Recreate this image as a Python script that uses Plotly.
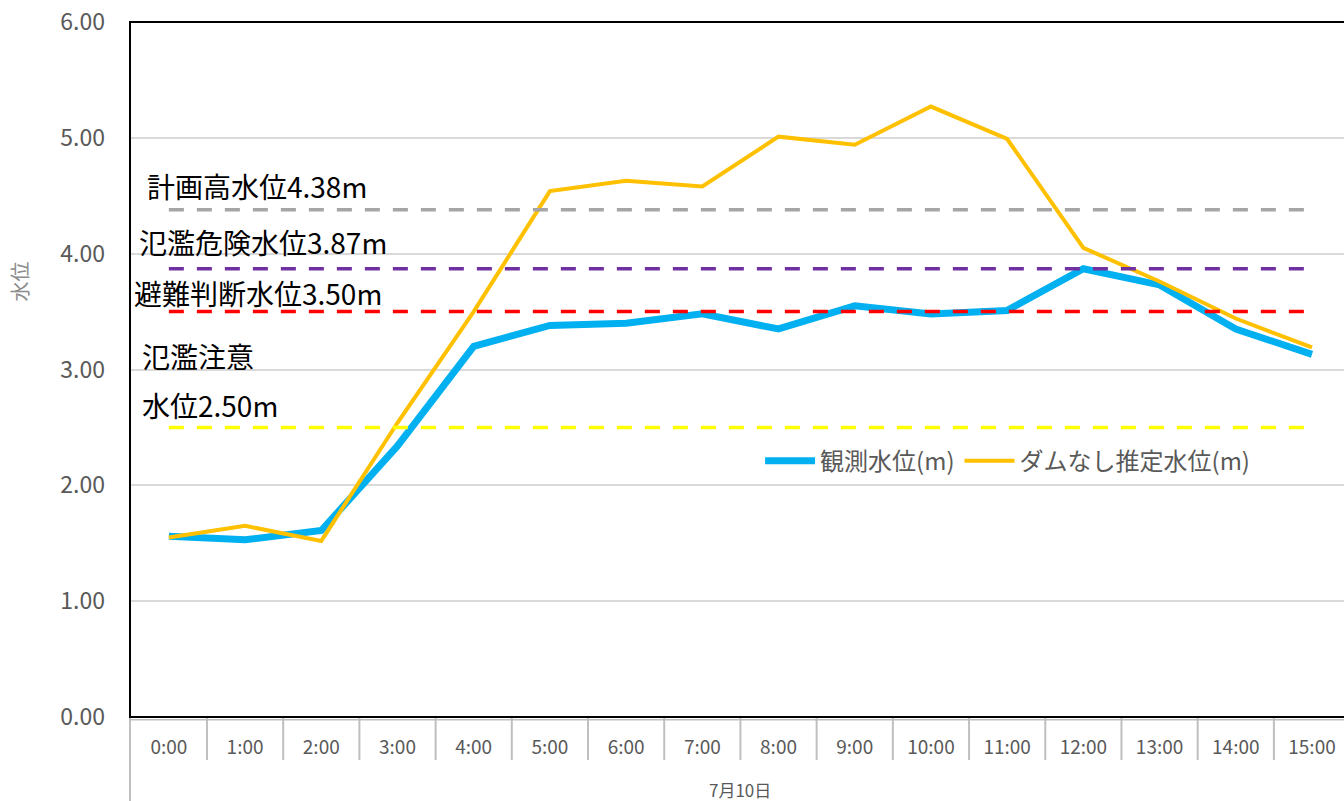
import plotly.graph_objects as go

hours = ["0:00", "1:00", "2:00", "3:00", "4:00", "5:00", "6:00", "7:00",
         "8:00", "9:00", "10:00", "11:00", "12:00", "13:00", "14:00", "15:00"]
observed = [1.56, 1.53, 1.61, 2.34, 3.20, 3.38, 3.40, 3.48,
            3.35, 3.55, 3.48, 3.51, 3.87, 3.73, 3.35, 3.13]
no_dam = [1.55, 1.65, 1.52, 2.54, 3.50, 4.54, 4.63, 4.58,
          5.01, 4.94, 5.27, 4.99, 4.05, 3.76, 3.44, 3.19]
threshold_values = [4.38, 3.87, 3.50, 2.50]
threshold_colors = ["#A5A5A5", "#7030A0", "#FF0000", "#FFFF00"]
threshold_labels = ["計画高水位4.38m", "氾濫危険水位3.87m", "避難判断水位3.50m", "氾濫注意", "水位2.50m"]
date_label = "7月10日"
y_ticks = [0, 1, 2, 3, 4, 5, 6]

FONT = "Noto Sans CJK JP"
xs = list(range(len(hours)))

fig = go.Figure()
fig.add_trace(go.Scatter(x=xs, y=observed, mode="lines", name="観測水位(m)",
                         line=dict(color="#00B0F0", width=7)))
fig.add_trace(go.Scatter(x=xs, y=no_dam, mode="lines", name="ダムなし推定水位(m)",
                         line=dict(color="#FFC000", width=4)))
for v, c in zip(threshold_values, threshold_colors):
    fig.add_trace(go.Scatter(x=[xs[0], xs[-1]], y=[v, v], mode="lines", showlegend=False,
                             hoverinfo="skip",
                             line=dict(color=c, width=3.5, dash="15px,13px")))

# threshold label annotations (paper positions)
label_pos = [(0.012, 0.764), (0.006, 0.683), (0.002, 0.610), (0.008, 0.519), (0.008, 0.449)]
for (px, py), t in zip(label_pos, threshold_labels):
    fig.add_annotation(xref="paper", yref="paper", x=px, y=py, text=t, showarrow=False,
                       xanchor="left", yanchor="middle",
                       font=dict(family=FONT, size=28, color="#000000"))

# y axis title
fig.add_annotation(xref="paper", yref="paper", x=-0.091, y=0.626, text="水位", textangle=-90,
                   showarrow=False, xanchor="center", yanchor="middle",
                   font=dict(family=FONT, size=20, color="#8C8C8C"))
# date group label
fig.add_annotation(xref="x", yref="paper", x=(xs[0] + xs[-1]) / 2, y=-0.105, text=date_label,
                   showarrow=False, xanchor="center", yanchor="middle",
                   font=dict(family=FONT, size=17, color="#595959"))

shapes = []
for k in xs[:-1]:
    shapes.append(dict(type="line", xref="x", yref="paper", x0=k + 0.5, x1=k + 0.5,
                       y0=0, y1=-0.062, line=dict(color="#BFBFBF", width=2)))
shapes.append(dict(type="line", xref="paper", yref="paper", x0=0, x1=0, y0=0, y1=-0.125,
                   line=dict(color="#BFBFBF", width=2)))
shapes.append(dict(type="line", xref="paper", yref="paper", x0=0, x1=1, y0=-0.004, y1=-0.004,
                   line=dict(color="#BFBFBF", width=1.5)))
shapes.append(dict(type="rect", xref="paper", yref="paper", x0=0, x1=1.01, y0=0, y1=1,
                   line=dict(color="#000000", width=2)))

fig.update_layout(
    width=1344, height=801,
    margin=dict(l=130, r=0, t=22, b=84),
    paper_bgcolor="white", plot_bgcolor="white",
    font=dict(family=FONT, color="#595959"),
    shapes=shapes,
    showlegend=True,
    legend=dict(orientation="h", x=0.519, y=0.368, xanchor="left", yanchor="middle",
                font=dict(family=FONT, size=24, color="#595959"),
                bgcolor="rgba(0,0,0,0)", itemwidth=50, tracegroupgap=0),
    xaxis=dict(range=[-0.51, 15.42], tickmode="array", tickvals=xs, ticktext=hours,
               showgrid=False, zeroline=False, showline=False, ticks="",
               ticklabelstandoff=17,
               tickfont=dict(family=FONT, size=19, color="#595959")),
    yaxis=dict(range=[0, 6], tickmode="array", tickvals=y_ticks,
               ticktext=[f"{v:.2f}" for v in y_ticks],
               showgrid=True, gridcolor="#D9D9D9", gridwidth=1.5, zeroline=False,
               showline=False, ticks="", ticklabelstandoff=24,
               tickfont=dict(family=FONT, size=23, color="#595959")),
)

fig.write_html("out.html", config={"displayModeBar": False},
               post_script="document.body.style.margin='0';document.body.style.overflow='hidden';")
